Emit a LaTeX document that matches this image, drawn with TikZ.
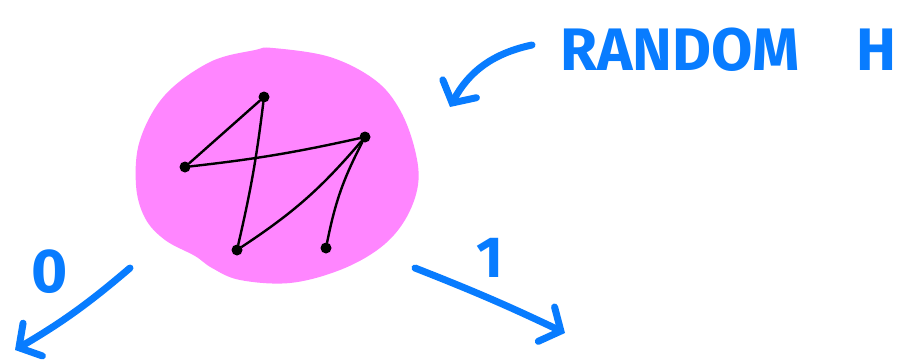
\documentclass[tikz,border=0pt]{standalone}
\usepackage{fontspec}
\setmainfont{Fira Sans}
\usetikzlibrary{arrows.meta, positioning, calc}
\definecolor{blobpink}{RGB}{255,134,255}
\definecolor{penblue}{RGB}{8,124,255}
\tikzset{
  vtx/.style={circle, fill=black, inner sep=0pt, minimum size=11pt},
  edg/.style={black, line width=2.4pt, line cap=round},
  pen/.style={draw=penblue, line width=7pt, line cap=round,
              -{Straight Barb[length=16pt, width=38pt, line cap=round]}},
  scrawl/.style={text=penblue, inner sep=0pt}
}

\begin{document}
\begin{tikzpicture}[x=1pt, y=-1pt]
  \useasboundingbox (0,0) rectangle (908,359);
  % the blob
  \fill[blobpink] plot[smooth cycle, tension=0.6] coordinates {
    (273,48) (330,57) (375,80) (400,110) (415,150) (418,185) (405,220)
    (380,248) (340,270) (290,283) (240,280) (212,268) (195,256) (165,240)
    (145,218) (136,185) (140,140) (165,95) (210,62) (255,50)};
  % random graph
  \node[vtx] (top) at (264,97) {};
  \node[vtx] (lft) at (185,167) {};
  \node[vtx] (rgt) at (365,137) {};
  \node[vtx] (botl) at (237,250) {};
  \node[vtx] (botr) at (326,248) {};
  \draw[edg] (top) -- (lft);
  \draw[edg] (top) to[bend left=3] (botl);
  \draw[edg] (lft) to[bend right=3] (rgt);
  \draw[edg] (rgt) to[bend left=8] (botl);
  \draw[edg] (rgt) to[bend right=8] (botr);
  % labels and arrows
  \node[scrawl, anchor=west, font=\bfseries\fontsize{60}{60}\selectfont] (title) at (560,50)
    {RANDOM\hspace{0.95em}H};
  \coordinate (t0) at (532,45);
  \coordinate (t1) at (450,107);
  \draw[pen] (t0) to[bend right=25] (t1);
  \node[scrawl, font=\bfseries\fontsize{62}{62}\selectfont] (zero) at (50,272) {0};
  \coordinate (a0) at (130,268);
  \coordinate (b0) at (15,350);
  \draw[pen] (a0) to[bend left=5] (b0);
  \node[scrawl, font=\bfseries\fontsize{58}{58}\selectfont] (one) at (490,258) {1};
  \coordinate (a1) at (415,268);
  \coordinate (b1) at (565,333);
  \draw[pen] (a1) to[bend left=2] (b1);
\end{tikzpicture}
\end{document}
